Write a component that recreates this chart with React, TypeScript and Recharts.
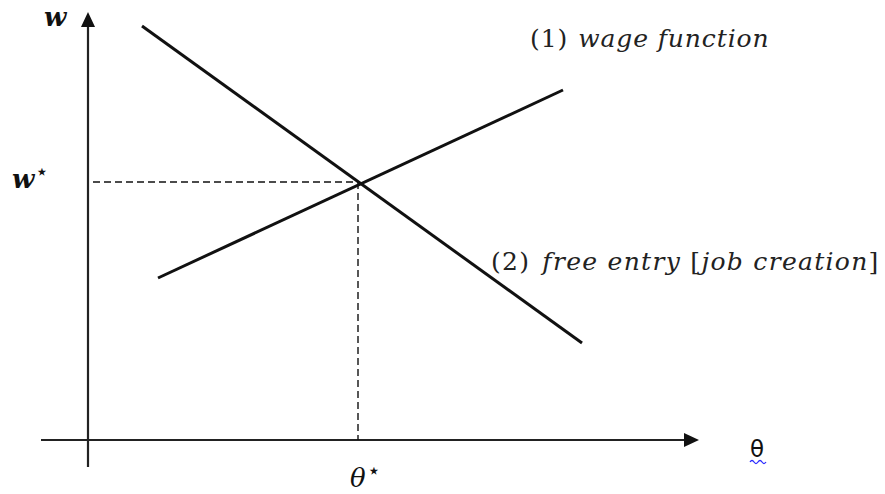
import { LineChart, Line, XAxis, YAxis, ReferenceLine, ReferenceDot } from 'recharts';

// units: θ and w, origin where the axes cross
const wageTheta = [7.0, 47.5];
const wageW = [16.2, 35.0];
const entryTheta = [5.4, 49.4];
const entryW = [41.4, 9.7];
const thetaStar = 27.0;
const wStar = 25.8;
const thetaAxis = [-4.7, 61.1];
const wAxis = [-2.7, 42.8];
const dashStart = 0.5;

const wageData = wageTheta.map((t, i) => ({ theta: t, w: wageW[i] }));
const entryData = entryTheta.map((t, i) => ({ theta: t, w: entryW[i] }));

const INK = '#111';
const MATH = '"DejaVu Serif", serif';

function Arrow(props: any) {
  const { x1, y1, x2, y2 } = props;
  const len = Math.hypot(x2 - x1, y2 - y1);
  const ux = (x2 - x1) / len;
  const uy = (y2 - y1) / len;
  const head = 15;
  const half = 7;
  const bx = x2 - ux * head;
  const by = y2 - uy * head;
  return (
    <g>
      <line x1={x1} y1={y1} x2={bx} y2={by} stroke="#222" strokeWidth={2.2} />
      <polygon
        points={`${x2},${y2} ${bx - uy * half},${by + ux * half} ${bx + uy * half},${by - ux * half}`}
        fill={INK}
      />
    </g>
  );
}

function TextAt({ dx, dy, children }: { dx: number; dy: number; children: React.ReactNode }) {
  return (props: any) => (
    <g transform={`translate(${props.cx + dx},${props.cy + dy})`}>{children}</g>
  );
}

export default function App() {
  return (
    <div style={{ position: 'absolute', left: 0, top: 0, background: '#fff' }}>
      <LineChart width={885} height={494} margin={{ top: 0, right: 0, bottom: 0, left: 0 }}>
        <XAxis type="number" dataKey="theta" domain={[-8.8, 79.7]} hide allowDataOverflow />
        <YAxis type="number" dataKey="w" domain={[-5.4, 44.0]} hide allowDataOverflow />

        <ReferenceLine segment={[{ x: thetaAxis[0], y: 0 }, { x: thetaAxis[1], y: 0 }]} shape={Arrow} ifOverflow="visible" />
        <ReferenceLine segment={[{ x: 0, y: wAxis[0] }, { x: 0, y: wAxis[1] }]} shape={Arrow} ifOverflow="visible" />

        <ReferenceLine
          segment={[{ x: dashStart, y: wStar }, { x: thetaStar, y: wStar }]}
          stroke={INK}
          strokeWidth={1.4}
          strokeDasharray="7 4"
        />
        <ReferenceLine
          segment={[{ x: thetaStar, y: wStar }, { x: thetaStar, y: 0 }]}
          stroke={INK}
          strokeWidth={1.4}
          strokeDasharray="7 4"
        />

        <Line data={wageData} dataKey="w" stroke={INK} strokeWidth={3} dot={false} activeDot={false} isAnimationActive={false} />
        <Line data={entryData} dataKey="w" stroke={INK} strokeWidth={3} dot={false} activeDot={false} isAnimationActive={false} />

        <ReferenceDot
          x={0}
          y={wAxis[1]}
          r={1}
          shape={TextAt({
            dx: -44,
            dy: 14,
            children: (
              <text fontFamily={MATH} fontStyle="italic" fontWeight="bold" fontSize={26} fill={INK}>w</text>
            ),
          })}
        />
        <ReferenceDot
          x={0}
          y={wStar}
          r={1}
          shape={TextAt({
            dx: -76,
            dy: 6,
            children: (
              <text fontFamily={MATH} fontStyle="italic" fontWeight="bold" fontSize={26} fill={INK}>
                w<tspan fontSize={22} dx={1} dy={-9} fontStyle="normal" fontWeight="normal">⋆</tspan>
              </text>
            ),
          })}
        />
        <ReferenceDot
          x={thetaStar}
          y={0}
          r={1}
          shape={TextAt({
            dx: -8,
            dy: 47,
            children: (
              <text fontFamily={MATH} fontStyle="italic" fontSize={26} fill={INK}>
                θ<tspan fontSize={22} dx={1} dy={-9} fontStyle="normal">⋆</tspan>
              </text>
            ),
          })}
        />
        <ReferenceDot
          x={thetaAxis[1]}
          y={0}
          r={1}
          shape={TextAt({
            dx: 51,
            dy: 17,
            children: (
              <g>
                <text fontFamily='"DejaVu Sans", sans-serif' fontSize={23} fill={INK}>θ</text>
                <path d="M0,5 q2,-3 4,0 t4,0 t4,0 t4,0" fill="none" stroke="#2b2bff" strokeWidth={1.3} />
              </g>
            ),
          })}
        />
        <ReferenceDot
          x={wageTheta[1]}
          y={wageW[1]}
          r={1}
          shape={TextAt({
            dx: -33,
            dy: -43,
            children: (
              <text fontFamily={MATH} fontSize={25} fill="#222" letterSpacing={0.9}>
                (1)<tspan dx={10} fontStyle="italic">wage function</tspan>
              </text>
            ),
          })}
        />
        <ReferenceDot
          x={entryTheta[1]}
          y={entryW[1]}
          r={1}
          shape={TextAt({
            dx: -91,
            dy: -73,
            children: (
              <text fontFamily={MATH} fontSize={25} fill="#222" letterSpacing={1.3}>
                (2)<tspan dx={12} fontStyle="italic">free entry </tspan>
                <tspan>[</tspan>
                <tspan fontStyle="italic">job creation</tspan>
                <tspan>]</tspan>
              </text>
            ),
          })}
        />
      </LineChart>
    </div>
  );
}
